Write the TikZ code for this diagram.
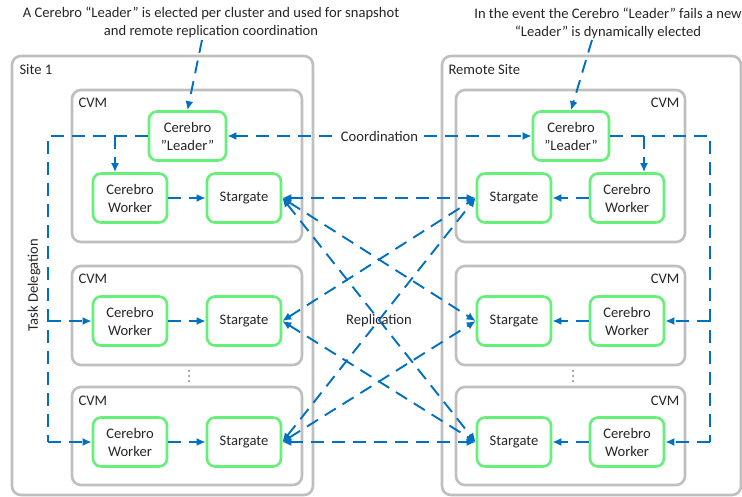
\documentclass[tikz,border=0pt]{standalone}
\usepackage{fontspec}
\setmainfont{Carlito}
\usetikzlibrary{arrows.meta}
\definecolor{sitegray}{RGB}{191,191,191}
\definecolor{nodegreen}{RGB}{102,240,122}
\definecolor{arrowblue}{RGB}{0,112,192}
\begin{document}
\begin{tikzpicture}[x=1pt,y=-1pt,
  every node/.style={font=\fontsize{14.6}{18}\selectfont, text=black!85},
  sitebox/.style={draw=sitegray, line width=2.6pt, rounded corners=9pt},
  cvmbox/.style={draw=sitegray, line width=2.6pt, rounded corners=9pt},
  comp/.style={draw=nodegreen, line width=2.6pt, rounded corners=8pt, fill=white,
    minimum width=74pt, minimum height=49pt, inner sep=0pt, align=center},
  dline/.style={draw=arrowblue, line width=1.9pt, dash pattern=on 13pt off 8pt},
  tip/.style={-{Latex[length=9pt,width=8pt]}},
  both/.style={{Latex[length=9pt,width=8pt]}-{Latex[length=9pt,width=8pt]}},
  dotmark/.style={fill=black!70, draw=none},
]
\useasboundingbox (0,0) rectangle (742,497);
% sites
\draw[sitebox] (12,56) rectangle (313,495);
\draw[sitebox] (442,56) rectangle (741,495);
\node[anchor=west] (site1) at (16,70) {Site 1};
\node[anchor=west] (site2) at (445,70) {Remote Site};
% CVMs left
\draw[cvmbox] (72,90) rectangle (302,242);
\draw[cvmbox] (72,266) rectangle (302,365);
\draw[cvmbox] (72,387) rectangle (302,485);
\node[anchor=west] (cvml1) at (75,103) {CVM};
\node[anchor=west] (cvml2) at (75,279) {CVM};
\node[anchor=west] (cvml3) at (75,401) {CVM};
% CVMs right
\draw[cvmbox] (456,90) rectangle (685,242);
\draw[cvmbox] (456,266) rectangle (685,365);
\draw[cvmbox] (456,387) rectangle (685,485);
\node[anchor=east] (cvmr1) at (683,103) {CVM};
\node[anchor=east] (cvmr2) at (683,279) {CVM};
\node[anchor=east] (cvmr3) at (683,401) {CVM};
% dots
\foreach \yy in {371,376,381} {
  \fill[dotmark] (189,\yy) circle (0.8);
  \fill[dotmark] (573,\yy) circle (0.8);
}
% components left
\node[comp, minimum width=77pt] (LL) at (187.5,136) {Cerebro\\”Leader”};
\node[comp] (WL1) at (130,198) {Cerebro\\Worker};
\node[comp] (SL1) at (244,198) {Stargate};
\node[comp] (WL2) at (130,321) {Cerebro\\Worker};
\node[comp] (SL2) at (244,321) {Stargate};
\node[comp] (WL3) at (130,442) {Cerebro\\Worker};
\node[comp] (SL3) at (244,442) {Stargate};
% components right
\node[comp, minimum width=76pt] (LR) at (571,136) {Cerebro\\”Leader”};
\node[comp] (SR1) at (514,198) {Stargate};
\node[comp] (WR1) at (627,198) {Cerebro\\Worker};
\node[comp] (SR2) at (514,321) {Stargate};
\node[comp] (WR2) at (627,321) {Cerebro\\Worker};
\node[comp] (SR3) at (514,442) {Stargate};
\node[comp] (WR3) at (627,442) {Cerebro\\Worker};
% annotations
\node[align=center] (noteL) at (211,22) {A Cerebro “Leader” is elected per cluster and used for snapshot\\and remote replication coordination};
\node[align=center] (noteR) at (608,23) {In the event the Cerebro “Leader” fails a new\\“Leader” is dynamically elected};
\coordinate (nLs) at (202,40);
\coordinate (nRs) at (592,40);
\draw[dline, tip] (nLs) -- (LL.north);
\draw[dline, tip] (nRs) -- (LR.north);
% coordination
\draw[dline, both] (LL.east) -- node[fill=white, inner sep=1pt] (coord) {Coordination} (LR.west);
% task delegation left
\coordinate (tdLt) at (48,136);
\coordinate (tdLm) at (48,321);
\coordinate (tdLb) at (48,442);
\coordinate (ldL) at (115,136);
\draw[dline] (LL.west) -- (tdLt) -- (tdLb);
\draw[dline, tip] (tdLm) -- (WL2.west);
\draw[dline, tip] (tdLb) -- (WL3.west);
\draw[dline, tip] (ldL) -- (ldL |- WL1.north);
\node[rotate=90] (task) at (34,285) {Task Delegation};
% task delegation right
\coordinate (tdRt) at (710,136);
\coordinate (tdRm) at (710,321);
\coordinate (tdRb) at (710,442);
\coordinate (ldR) at (644,136);
\draw[dline] (LR.east) -- (tdRt) -- (tdRb);
\draw[dline, tip] (tdRm) -- (WR2.east);
\draw[dline, tip] (tdRb) -- (WR3.east);
\draw[dline, tip] (ldR) -- (ldR |- WR1.north);
% worker -> stargate
\draw[dline, tip] (WL1) -- (SL1);
\draw[dline, tip] (WL2) -- (SL2);
\draw[dline, tip] (WL3) -- (SL3);
\draw[dline, tip] (WR1) -- (SR1);
\draw[dline, tip] (WR2) -- (SR2);
\draw[dline, tip] (WR3) -- (SR3);
% replication
\draw[dline, both] (SL1.east) -- (SR1.west);
\draw[dline, both] (SL3.east) -- (SR3.west);
\draw[dline, both] (SL1.east) -- (SR2.west);
\draw[dline, both] (SL1.east) -- (SR3.west);
\draw[dline, both] (SL2.east) -- (SR1.west);
\draw[dline, both] (SL2.east) -- (SR3.west);
\draw[dline, both] (SL3.east) -- (SR1.west);
\draw[dline, both] (SL3.east) -- (SR2.west);
\node (repl) at (379,321) {Replication};
\end{tikzpicture}
\end{document}
